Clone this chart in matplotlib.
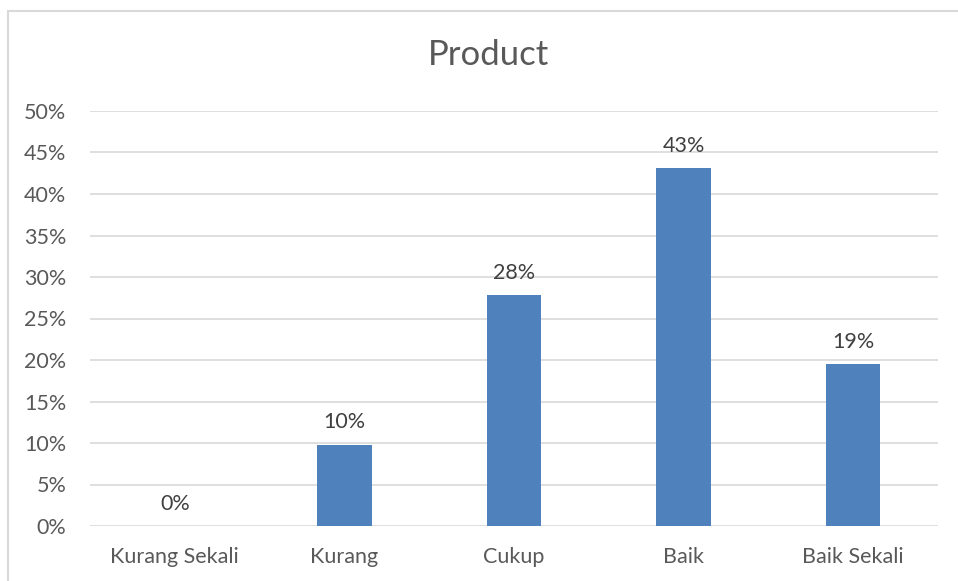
import numpy as np
import matplotlib
matplotlib.use("Agg")
from matplotlib import pyplot as plt
from matplotlib.patches import Rectangle
from matplotlib.ticker import PercentFormatter

categories = ["Kurang Sekali", "Kurang", "Cukup", "Baik", "Baik Sekali"]
values = [0.0, 9.8, 27.8, 43.1, 19.5]
labels = ["0%", "10%", "28%", "43%", "19%"]
yticks = np.arange(0, 55, 5)

txt = "#595959"
grid = "#D9D9D9"
bar_color = "#4F81BD"

plt.rcParams["font.family"] = ["Lato", "DejaVu Sans"]

fig = plt.figure(figsize=(9.58, 5.81), dpi=100)
fig.patches.append(Rectangle((8/958, -0.1), 1.2, 1.1 - 11/581,
                             transform=fig.transFigure, fill=False,
                             edgecolor=grid, linewidth=1.5))
ax = fig.add_axes([90/958, 1-526/581, 848/958, 415/581])

x = np.arange(len(categories))
ax.bar(x, values, width=0.32, color=bar_color, zorder=3)
for xi, v, l in zip(x, values, labels):
    ax.text(xi, v + 1.5, l, ha="center", va="bottom", fontsize=15.5, color="#404040")

ax.set_xlim(-0.5, len(categories)-0.5)
ax.set_ylim(0, 50)
ax.set_yticks(yticks)
ax.yaxis.set_major_formatter(PercentFormatter(decimals=0))
ax.set_xticks(x)
ax.set_xticklabels(categories)
ax.tick_params(axis="both", length=0, labelsize=15.5, colors=txt)
ax.tick_params(axis="y", pad=17)
ax.tick_params(axis="x", pad=15)
ax.grid(axis="y", color=grid, linewidth=1.2, zorder=0)
for s in ax.spines.values():
    s.set_visible(False)

fig.text(488/958, 1-55/581, "Product", ha="center", va="center", fontsize=25, color=txt)

fig.savefig("out.png", dpi=100)
